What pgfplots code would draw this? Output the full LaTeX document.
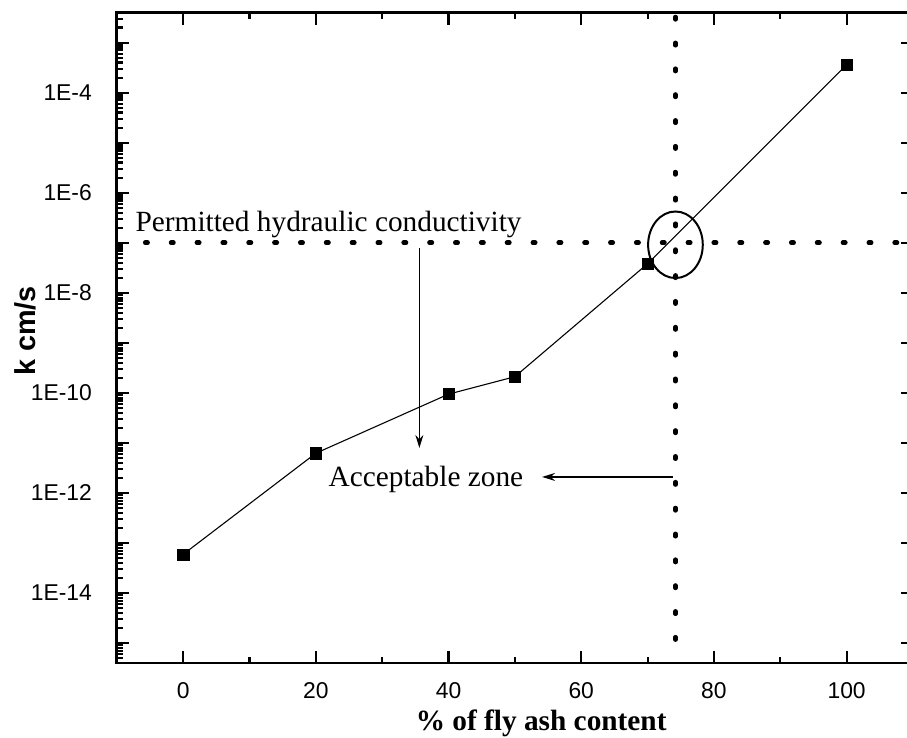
\documentclass[border=0pt]{standalone}
\usepackage{pgfplots}
\pgfplotsset{compat=1.18}
\usepackage{fontspec}
\setmainfont{Liberation Sans}
\newfontfamily\timesfont{Liberation Serif}
\usetikzlibrary{arrows.meta}

\begin{document}
\def\minorlist{1e-17}
\foreach \e in {-16,...,-3}{\foreach \k in {2,...,9}{\xdef\minorlist{\minorlist,\k e\e}}}
\begin{tikzpicture}
\path[use as bounding box] (0pt,0pt) rectangle (907pt,742pt);
\begin{axis}[
  at={(112pt,75pt)}, anchor=south west,
  scale only axis, width=801pt, height=654.3pt,
  xmin=-10, xmax=110,
  ymode=log, ymin=3.98e-16, ymax=3.98e-3,
  xtick={0,20,40,60,80,100},
  minor xtick={10,30,50,70,90},
  ytick={1e-15,1e-14,1e-13,1e-12,1e-11,1e-10,1e-9,1e-8,1e-7,1e-6,1e-5,1e-4,1e-3},
  yticklabels={,1E-14,,1E-12,,1E-10,,1E-8,,1E-6,,1E-4,},
  minor ytick/.expanded={\minorlist},
  tick align=inside,
  major tick length=12pt, minor tick length=6pt,
  every tick/.style={line width=2.2pt, black},
  axis line style={line width=2.7pt},
  /pgf/number format/assume math mode=true,
  ticklabel style={font=\fontsize{23}{27}\selectfont},
  yticklabel style={inner sep=0pt, xshift=-25pt},
  xticklabel style={inner sep=0pt, yshift=-20pt},
  xlabel={\timesfont\bfseries\% of fly ash content},
  xlabel style={font=\fontsize{29.5}{34}\selectfont, at={(axis description cs:0.533,0)}, anchor=base, yshift=-68pt, inner sep=0pt},
  ylabel={\bfseries k cm/s},
  ylabel style={font=\fontsize{29}{34}\selectfont, at={(axis description cs:-0.115,0.5105)}, anchor=center, inner sep=0pt},
]
\addplot[black, line width=1.1pt, mark=square*, mark size=5.6pt, mark options={solid, fill=black, line width=0.5pt}]
  coordinates {(0,5.9e-14) (20,6.2e-12) (40,9.4e-11) (50,2.1e-10) (70,3.8e-8) (100,3.6e-4)};

% dotted reference lines
\draw[line width=4.5pt, line cap=round, dash pattern=on 2.5pt off 23.5pt]
  (axis cs:-5.73,1e-7) -- (axis cs:110,1e-7);
\draw[line width=4.5pt, line cap=round, dash pattern=on 2.5pt off 23.5pt]
  (axis cs:74.2,3.26e-3) -- (axis cs:74.2,1.07e-15);
% ellipse
\draw[line width=2pt] (axis cs:74.2,9.1e-8) ellipse [x radius=27.5pt, y radius=33.5pt];
% arrows
\draw[line width=1.5pt, -{Stealth[length=13pt,width=8pt]}] (axis cs:35.6,7.8e-8) -- (axis cs:35.6,7.9e-12);
\draw[line width=1.5pt, -{Stealth[length=13pt,width=8pt]}] (axis cs:73.85,2.08e-12) -- (axis cs:54.1,2.08e-12);
% texts
\node[anchor=base west, inner sep=0pt, font=\timesfont\fontsize{29.5}{34}\selectfont] at (axis cs:-7.2,1.67e-7) {Permitted hydraulic conductivity};
\node[anchor=base west, inner sep=0pt, font=\timesfont\fontsize{29.5}{34}\selectfont] at (axis cs:21.9,1.32e-12) {Acceptable zone};
\end{axis}
\end{tikzpicture}
\end{document}
